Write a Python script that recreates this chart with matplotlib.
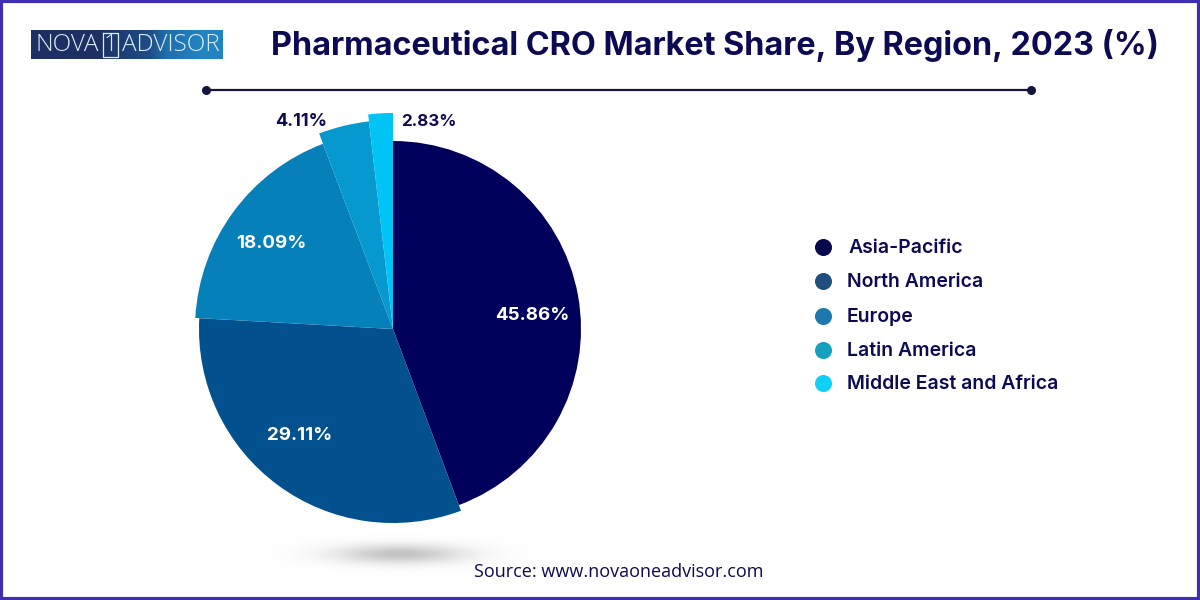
"""Pharmaceutical CRO market share by region, redrawn in figure pixel coordinates."""
import numpy as np
import matplotlib
matplotlib.use("Agg")
import matplotlib.pyplot as plt
from matplotlib.colors import LinearSegmentedColormap

regions = ["Asia-Pacific", "North America", "Europe", "Latin America", "Middle East and Africa"]
share_labels = ["45.86%", "29.11%", "18.09%", "4.11%", "2.83%"]
# sweep of each slice in degrees (they differ a bit from the printed shares)
slice_degrees = [159.5, 113.7, 66.1, 14.1, 6.6]

slice_colors = ["#00005c", "#03508f", "#0580b8", "#0599cf", "#00c4f5"]
legend_colors = ["#07074d", "#1f4e7f", "#1f78ad", "#16a0c0", "#10d0f8"]
slice_radii = [188, 194, 198, 209, 216]

INK = "#0d0a54"
FONT = ["Inter", "DejaVu Sans"]

plt.rcParams["font.family"] = FONT

fig = plt.figure(figsize=(12, 6), dpi=100, facecolor="white")
ax = fig.add_axes([0, 0, 1, 1])


def py(y):
    """Image y (down from the top) to axis y."""
    return 600 - y


wedges, _ = ax.pie(slice_degrees, colors=slice_colors, startangle=90, counterclock=False,
                   center=(393, py(329)), radius=188, frame=True)
for wedge, r in zip(wedges, slice_radii):
    wedge.set_radius(r)

ax.set_xlim(0, 1200)
ax.set_ylim(0, 600)
ax.set_aspect("auto")
ax.axis("off")

# soft shadow under the pie
xx, yy = np.meshgrid(np.linspace(-1, 1, 300), np.linspace(-1, 1, 80))
shadow = np.exp(-(xx ** 2) * 5 - (yy ** 2) * 7)
shadow_cmap = LinearSegmentedColormap.from_list("shadow", ["#ffffff", "#c4c4c4"])
ax.imshow(shadow, extent=(255, 545, py(580), py(528)), cmap=shadow_cmap, aspect="auto",
          vmin=0, vmax=1, zorder=0)
ax.set_xlim(0, 1200)
ax.set_ylim(0, 600)

# slice labels
label_pos = [(532, 316), (300, 435), (271, 243), (301, 121), (429, 122)]
label_colors = ["white", "white", "white", INK, INK]
label_sizes = [13.5, 13.5, 13.5, 13, 12.2]
for text, (x, y), c, size in zip(share_labels, label_pos, label_colors, label_sizes):
    ax.text(x, py(y), text, color=c, fontsize=size, fontweight="bold", ha="center", va="center")

# title and rule
ax.text(715, py(45), "Pharmaceutical CRO Market Share, By Region, 2023 (%)", color=INK,
        fontsize=23.3, fontweight="bold", ha="center", va="center")
ax.plot([206, 1031], [py(90), py(90)], color="#14143f", linewidth=1.6, zorder=3)
ax.scatter([206, 1031], [py(90), py(90)], s=30, color="#14143f", zorder=4)

# legend
legend_y = [247, 281, 316, 350, 383]
legend_x = [849, 847, 847, 847, 847]
for name, y, x, c in zip(regions, legend_y, legend_x, legend_colors):
    ax.scatter([823], [py(y)], s=150, color=c, linewidths=0, zorder=4)
    ax.text(x, py(y + 1), name, color=INK, fontsize=14, fontweight="semibold", ha="left", va="center")

# source
ax.text(619, py(572), "Source: www.novaoneadvisor.com", color=INK, fontsize=13,
        family=["Open Sans", "DejaVu Sans"], ha="center", va="center")

# logo
logo_cmap = LinearSegmentedColormap.from_list("logo", ["#1d2f63", "#1d2f63", "#1f6fae", "#2183c0"])
ax.imshow(np.array([[0.0, 0.35, 0.5, 1.0]]), extent=(31, 223, py(59), py(30)), cmap=logo_cmap,
          aspect="auto", interpolation="bilinear", zorder=2)
ax.set_xlim(0, 1200)
ax.set_ylim(0, 600)
logo_font = dict(color="#d8eefb", fontsize=17.5, fontweight="light", va="center", zorder=3,
                 family=["Open Sans", "DejaVu Sans"])
ax.text(35, py(45), "NOVA", ha="left", **logo_font)
ax.text(110.5, py(45), "1", ha="center", **logo_font)
ax.text(122, py(45), "ADVISOR", ha="left", **logo_font)
ax.plot([103, 118, 118, 103, 103], [py(33), py(33), py(57), py(57), py(33)],
        color="#d8eefb", linewidth=0.9, zorder=3)

# page border
ax.plot([1, 1199, 1199, 1, 1], [1, 1, 599, 599, 1], color="#3f2fb0", linewidth=3, zorder=5,
        clip_on=False)

fig.savefig("out.png", dpi=100)
